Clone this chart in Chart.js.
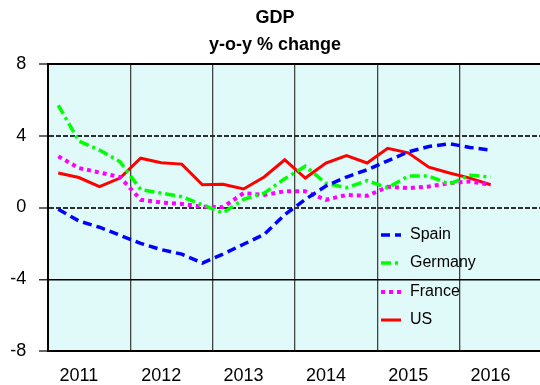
<!DOCTYPE html>
<html>
<head>
<meta charset="utf-8">
<title>GDP y-o-y % change</title>
<script src="https://cdn.jsdelivr.net/npm/chart.js@4/dist/chart.umd.min.js"></script>
<style>
    html, body { margin: 0; padding: 0; background: #ffffff; }
    #wrap { width: 540px; height: 385px; }
</style>
</head>
<body>
<div id="wrap"><canvas id="chartGdp"></canvas></div>
<script>
// Quarterly GDP, y-o-y % change
const quarters = [
    '2011Q1', '2011Q2', '2011Q3', '2011Q4',
    '2012Q1', '2012Q2', '2012Q3', '2012Q4',
    '2013Q1', '2013Q2', '2013Q3', '2013Q4',
    '2014Q1', '2014Q2', '2014Q3', '2014Q4',
    '2015Q1', '2015Q2', '2015Q3', '2015Q4',
    '2016Q1', '2016Q2'
];
const spain   = [-0.1, -0.75, -1.1, -1.55, -2.0, -2.35, -2.6, -3.1, -2.6, -2.05, -1.5, -0.4, 0.45, 1.2, 1.7, 2.1, 2.6, 3.1, 3.4, 3.55, 3.35, 3.2];
const germany = [5.7, 3.7, 3.2, 2.55, 1.0, 0.8, 0.6, 0.15, -0.3, 0.45, 0.8, 1.6, 2.3, 1.35, 1.1, 1.5, 1.1, 1.75, 1.75, 1.3, 1.8, 1.7];
const france  = [2.85, 2.2, 1.95, 1.7, 0.43, 0.28, 0.2, 0.05, 0.02, 0.8, 0.7, 0.9, 0.9, 0.43, 0.7, 0.65, 1.15, 1.08, 1.17, 1.36, 1.45, 1.27];
const us      = [1.92, 1.67, 1.17, 1.64, 2.75, 2.5, 2.42, 1.27, 1.3, 1.03, 1.7, 2.66, 1.64, 2.48, 2.9, 2.48, 3.3, 3.05, 2.25, 1.92, 1.64, 1.27];
const yTicks  = [-8, -4, 0, 4, 8];

const FONT = 'Liberation Sans, Arial, Helvetica, sans-serif';

// year boundaries sit between Q4 and Q1, year labels go on the Q2 point
const yearLines  = quarters.map((q, i) => i).filter(i => i > 0 && quarters[i].endsWith('Q1')).map(i => i - 0.5);
const yearLabels = quarters.map((q, i) => i).filter(i => quarters[i].endsWith('Q2'));

const toPoints = (arr) => arr.map((v, i) => ({ x: i, y: v }));

const plotBackground = {
    id: 'plotBackground',
    beforeDraw: (chart) => {
        const { ctx, chartArea: a } = chart;
        ctx.save();
        ctx.fillStyle = '#e0fafa';
        ctx.fillRect(a.left, a.top, a.right - a.left, a.bottom - a.top);
        ctx.restore();
    }
};

// legend box inside the plot, lower right
const insideLegend = {
    id: 'insideLegend',
    afterDatasetsDraw: (chart) => {
        const { ctx } = chart;
        const x0 = 381, x1 = 401, tx = 410;
        const rows = [235, 263, 292, 320];
        ctx.save();
        chart.data.datasets.forEach((ds, i) => {
            const y = rows[i];
            ctx.beginPath();
            ctx.strokeStyle = ds.borderColor;
            ctx.lineWidth = ds.borderWidth;
            ctx.setLineDash(ds.borderDash || []);
            ctx.lineCap = 'butt';
            ctx.moveTo(x0, y);
            ctx.lineTo(x1, y);
            ctx.stroke();
            ctx.setLineDash([]);
            ctx.fillStyle = '#000000';
            ctx.font = '16px ' + FONT;
            ctx.textBaseline = 'middle';
            ctx.textAlign = 'left';
            ctx.fillText(ds.label, tx, y);
        });
        ctx.restore();
    }
};

const isDashed = (c) => c.tick && (c.tick.value === 4 || c.tick.value === 0);

const ctxGdp = document.getElementById('chartGdp');
new Chart(ctxGdp, {
    type: 'line',
    data: {
        datasets: [
            { label: 'Spain',   data: toPoints(spain),   borderColor: '#0000ff', borderWidth: 3.5, borderDash: [9, 5] },
            { label: 'Germany', data: toPoints(germany), borderColor: '#00ff00', borderWidth: 3.5, borderDash: [10, 4, 3, 4] },
            { label: 'France',  data: toPoints(france),  borderColor: '#ff00ff', borderWidth: 4,   borderDash: [4, 4] },
            { label: 'US',      data: toPoints(us),      borderColor: '#ff0000', borderWidth: 3 }
        ]
    },
    options: {
        responsive: true,
        maintainAspectRatio: false,
        animation: false,
        elements: {
            line: { tension: 0, fill: false, borderCapStyle: 'butt' },
            point: { radius: 0, hoverRadius: 0 }
        },
        layout: { padding: { left: 10, right: 0, top: 0, bottom: 0 } },
        plugins: {
            legend: { display: false },
            tooltip: { enabled: false },
            title: {
                display: true,
                text: ['GDP', 'y-o-y % change'],
                color: '#000000',
                font: { family: FONT, size: 18, weight: 'bold', lineHeight: 1.5 },
                padding: { top: 4.5, bottom: 5.5 }
            }
        },
        scales: {
            x: {
                type: 'linear',
                min: -0.5,
                max: 23.4,
                afterBuildTicks: (scale) => {
                    scale.ticks = [...yearLines, ...yearLabels].sort((a, b) => a - b).map(v => ({ value: v }));
                },
                afterFit: (scale) => { scale.height = 34; },
                grid: {
                    drawTicks: false,
                    color: (c) => (c.tick && yearLines.includes(c.tick.value)) ? '#444444' : 'rgba(0,0,0,0)',
                    lineWidth: 1.3
                },
                border: { display: true, color: '#000000', width: 2 },
                ticks: {
                    autoSkip: false,
                    maxRotation: 0,
                    minRotation: 0,
                    padding: 14,
                    color: '#000000',
                    font: { family: FONT, size: 18 },
                    callback: (value) => yearLabels.includes(value) ? quarters[value].slice(0, 4) : ''
                }
            },
            y: {
                min: -8,
                max: 8,
                afterBuildTicks: (scale) => { scale.ticks = yTicks.map(v => ({ value: v })); },
                afterFit: (scale) => { scale.width = 38; },
                grid: {
                    color: (c) => isDashed(c) ? '#2e2e2e' : '#000000',
                    lineWidth: (c) => (c.tick && c.tick.value === -4) ? 1.5 : 2,
                    tickLength: 9,
                    tickColor: '#333333',
                    tickWidth: 1.5
                },
                border: {
                    display: true,
                    color: '#000000',
                    width: 2,
                    dash: (c) => isDashed(c) ? [5, 2] : []
                },
                ticks: {
                    padding: 12.7,
                    color: '#000000',
                    font: { family: FONT, size: 18 }
                }
            }
        }
    },
    plugins: [plotBackground, insideLegend]
});
</script>
</body>
</html>
